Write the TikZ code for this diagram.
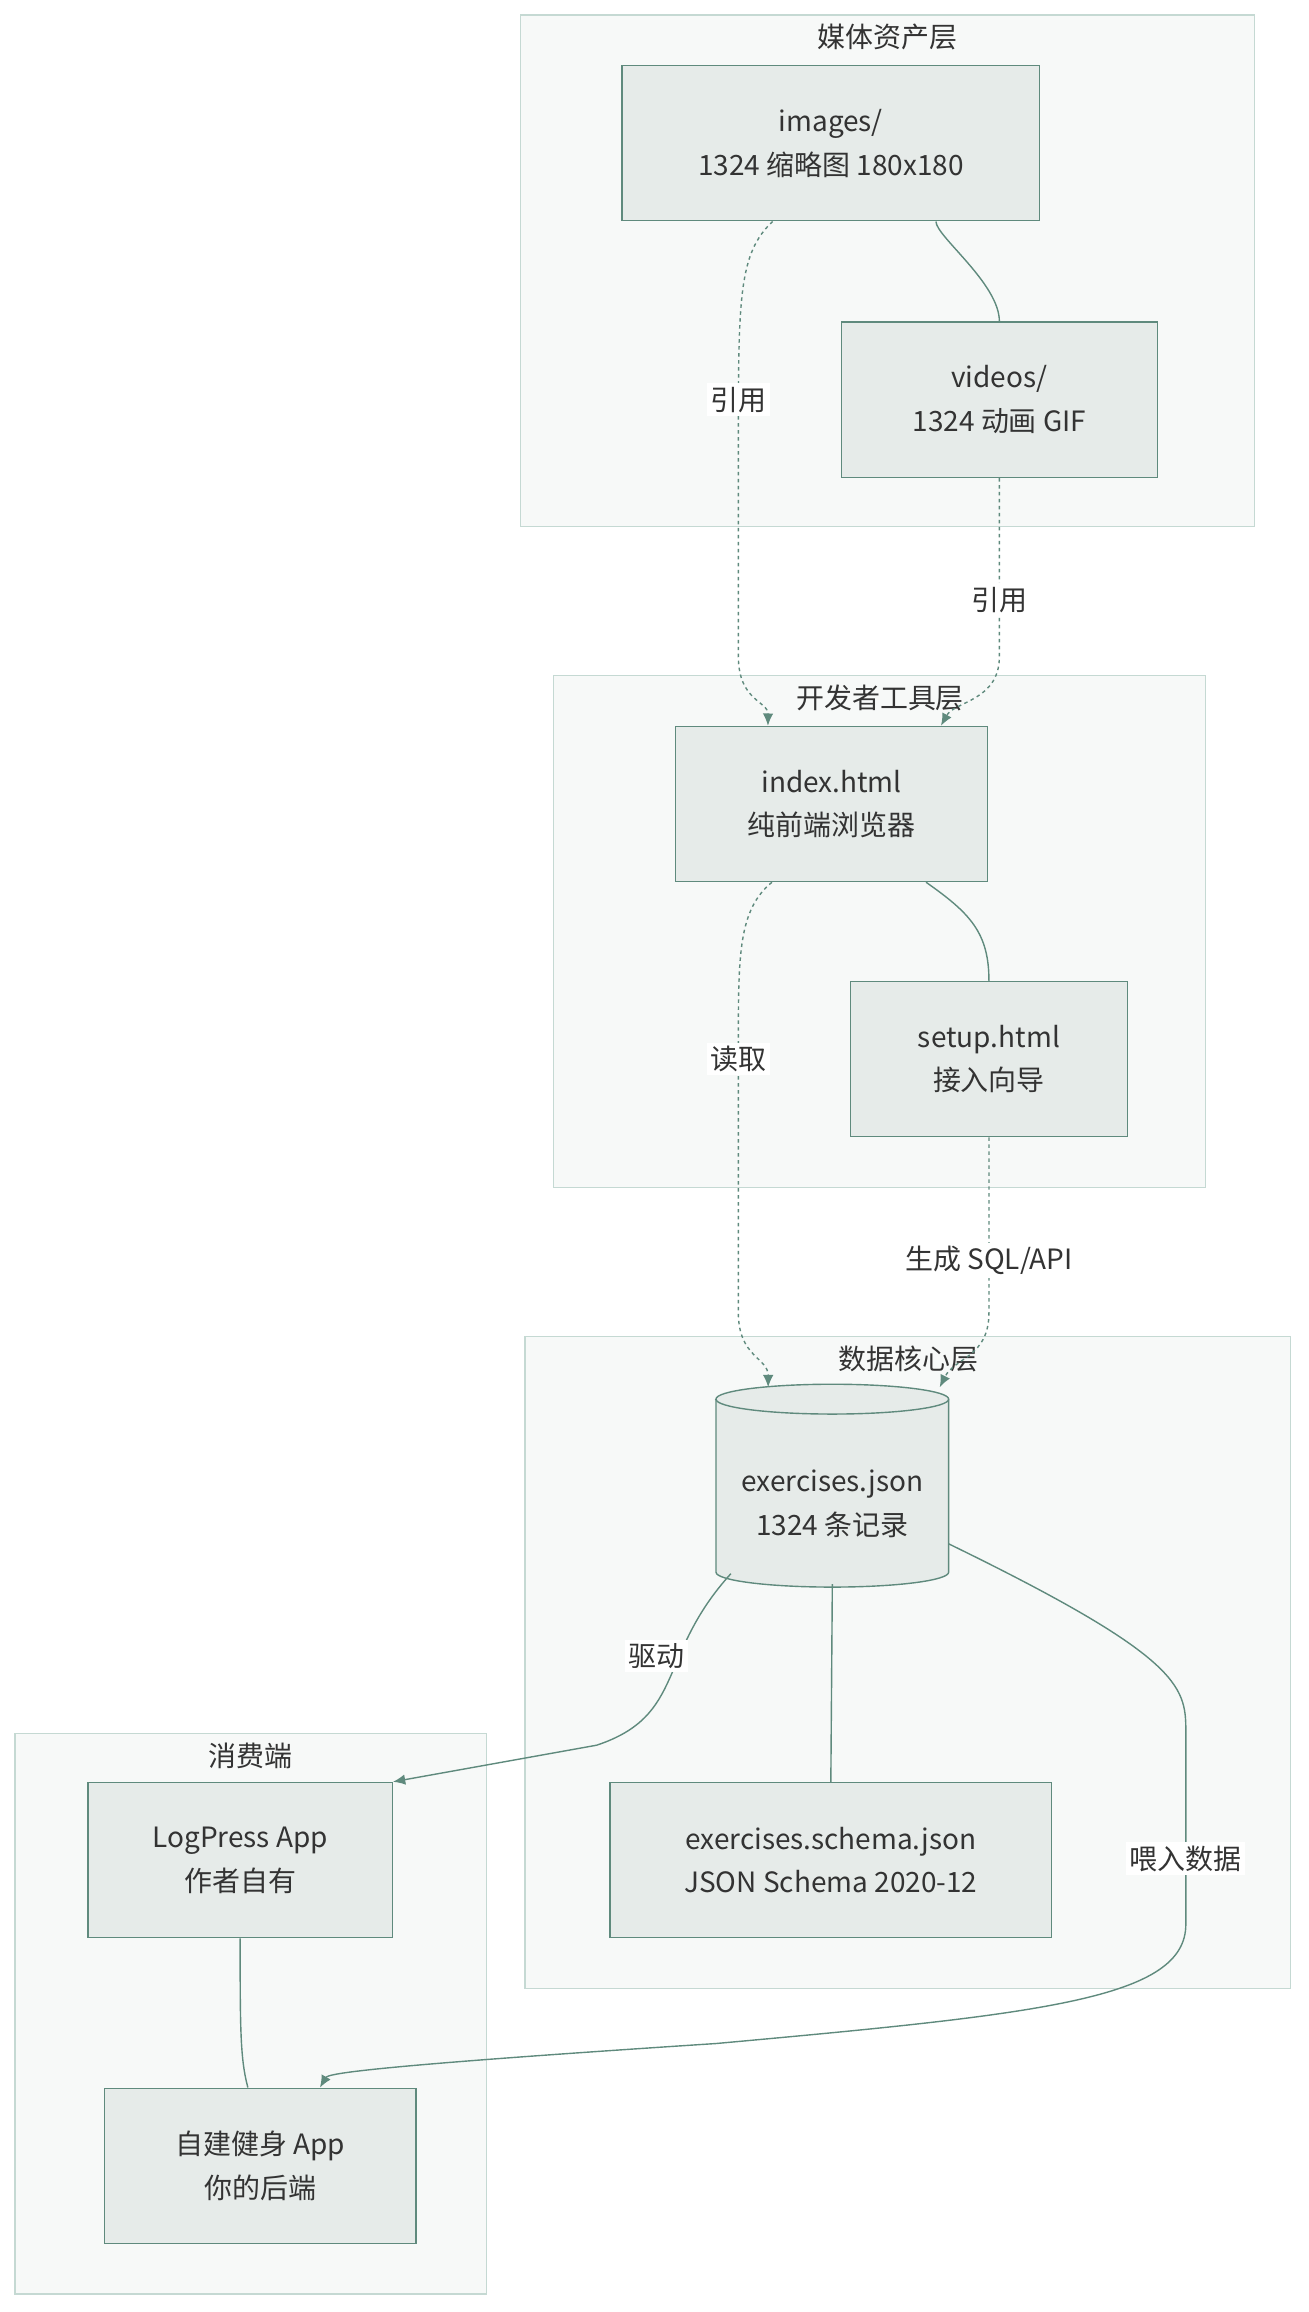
\documentclass[tikz,border=0pt]{standalone}
\usepackage{fontspec}
\setmainfont{Noto Sans CJK SC}
\usetikzlibrary{arrows.meta}
\definecolor{clf}{HTML}{F7F9F8}
\definecolor{clb}{HTML}{C5D9D3}
\definecolor{ndf}{HTML}{E6EBE9}
\definecolor{ndb}{HTML}{5F8A7D}
\definecolor{tx}{HTML}{333333}
\begin{document}
\begin{tikzpicture}[x=0.03cm,y=-0.03cm,
  cl/.style={draw=clb,fill=clf,line width=0.8pt},
  ctitle/.style={text=tx,font=\fontsize{16}{18}\selectfont,anchor=center},
  nd/.style={draw=ndb,fill=ndf,line width=0.8pt,text=tx,align=center,font=\fontsize{16}{25}\selectfont,inner sep=0pt},
  ln/.style={draw=ndb,line width=0.8pt},
  dl/.style={draw=ndb,line width=0.8pt,dash pattern=on 2pt off 2pt,-{Latex[length=7pt,width=6pt]}},
  ar/.style={draw=ndb,line width=0.8pt,-{Latex[length=7pt,width=6pt]}},
  lb/.style={fill=white,text=tx,font=\fontsize{16}{18}\selectfont,inner sep=2pt}]
\useasboundingbox (0,0) rectangle (877,1550);
% clusters
\draw[cl] (349,10) rectangle (841,353);
\node[ctitle] (t1) at (595,25) {媒体资产层};
\draw[cl] (371,453) rectangle (808,796);
\node[ctitle] (t2) at (590,468) {开发者工具层};
\draw[cl] (352,896) rectangle (865,1333);
\node[ctitle] (t3) at (609,911) {数据核心层};
\draw[cl] (10,1162) rectangle (326,1538);
\node[ctitle] (t4) at (168,1177) {消费端};
% nodes
\node[nd,minimum width=8.4cm,minimum height=3.12cm] (img) at (557,96) {images/\\1324 缩略图 180x180};
\node[nd,minimum width=6.36cm,minimum height=3.12cm] (vid) at (670,268) {videos/\\1324 动画 GIF};
\node[nd,minimum width=6.27cm,minimum height=3.12cm] (idx) at (557.5,539) {index.html\\纯前端浏览器};
\node[nd,minimum width=5.58cm,minimum height=3.12cm] (set) at (663,710) {setup.html\\接入向导};
\node[nd,minimum width=8.88cm,minimum height=3.12cm] (sch) at (557,1247) {exercises.schema.json\\JSON Schema 2020-12};
\node[nd,minimum width=6.12cm,minimum height=3.12cm] (lp) at (161,1247) {LogPress App\\作者自有};
\node[nd,minimum width=6.27cm,minimum height=3.12cm] (own) at (174.5,1452) {自建健身 App\\你的后端};
% cylinder
\filldraw[draw=ndb,fill=ndf,line width=0.8pt] (480,938) -- (480,1054) arc[start angle=180,end angle=360,x radius=2.34cm,y radius=0.3cm] -- (636,938) arc[start angle=0,end angle=180,x radius=2.34cm,y radius=0.3cm] -- cycle;
\draw[ndb,line width=0.8pt] (480,938) arc[start angle=180,end angle=360,x radius=2.34cm,y radius=0.3cm];
\node[text=tx,align=center,font=\fontsize{16}{25}\selectfont] (db) at (558,1008) {exercises.json\\1324 条记录};
\coordinate (dbtop) at (558,930);
\coordinate (dbbot) at (558,1062);
% edges
\draw[ln] (img.south east) ++(-70,0) .. controls +(0,10) and (670,190) .. (vid.north);
\draw[dl] ([xshift=-1.17cm]img.south) .. controls (495,170) and (495,200) .. (495,300) -- (495,440) .. controls (495,470) and (515,470) .. ([xshift=-1.28cm]idx.north);
\node[lb] (l1) at (495,268) {引用};
\draw[dl] (vid.south) -- (670,440) .. controls (670,470) and (640,470) .. ([xshift=2.2cm]idx.north);
\node[lb] (l2) at (670,402) {引用};
\draw[ln] ([xshift=1.9cm]idx.south) .. controls (650,612) and (663,625) .. (set.north);
\draw[dl] ([xshift=-1.2cm]idx.south) .. controls (495,610) and (495,640) .. (495,700) -- (495,880) .. controls (495,910) and (515,910) .. ([xshift=-1.29cm]dbtop);
\node[lb] (l3) at (495,710) {读取};
\draw[dl] (set.south) -- (663,880) .. controls (663,910) and (640,910) .. ([xshift=2.16cm]dbtop);
\node[lb] (l4) at (663,845) {生成 SQL/API};
\draw[ln] (dbbot) -- (sch.north);
\draw[ar] (490,1055) .. controls (440,1110) and (460,1150) .. (400,1170) -- (lp.north east);
\node[lb] (l5) at (440,1110) {驱动};
\draw[ar] (636,1035) .. controls (790,1110) and (795,1130) .. (795,1160) -- (795,1290) .. controls (795,1340) and (700,1350) .. (480,1370) .. controls (250,1385) and (220,1390) .. ([xshift=1.2cm]own.north);
\node[lb] (l6) at (795,1246) {喂入数据};
\draw[ln] (lp.south) .. controls (161,1360) and (161,1380) .. ([xshift=-0.25cm]own.north);
\end{tikzpicture}
\end{document}
